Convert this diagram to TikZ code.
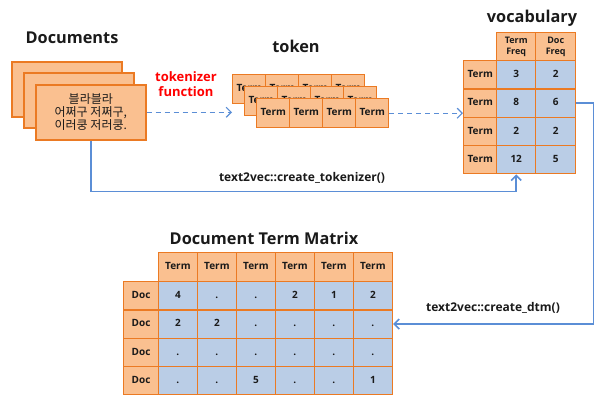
\documentclass[tikz,border=0pt]{standalone}
\usepackage{fontspec}
\setmainfont{Open Sans}
\newfontfamily\kr{Noto Sans CJK KR}
\usetikzlibrary{arrows.meta,calc}
\definecolor{orf}{HTML}{FAC090}
\definecolor{ord}{HTML}{EB7A23}
\definecolor{blf}{HTML}{BACDE6}
\definecolor{arr}{HTML}{5B8ED6}
\definecolor{ink}{HTML}{1A1A1A}
\begin{document}
\begin{tikzpicture}[x=1pt,y=-1pt,
  cellbase/.style={draw=ord, line width=1.4pt, inner sep=0pt, anchor=north west,
    font=\bfseries\fontsize{10}{11}\selectfont, text=ink, text height=7.5pt, text depth=2pt},
  ocell/.style={cellbase, fill=orf},
  bcell/.style={cellbase, fill=blf},
  hcell/.style={ocell, text height=, text depth=, align=center,
    font=\bfseries\fontsize{9}{11}\selectfont},
  docbox/.style={draw=ord, line width=1.6pt, fill=orf, anchor=north west,
    minimum width=110pt, minimum height=55pt, inner sep=0pt},
  title/.style={font=\bfseries\fontsize{16.3}{18}\selectfont, text=ink},
  lbl/.style={font=\bfseries\fontsize{12}{14}\selectfont, text=ink},
  flow/.style={draw=arr, line width=1.6pt, -{Straight Barb[length=5pt,width=10pt]}},
  dflow/.style={flow, line width=1.2pt, dash pattern=on 5pt off 4pt}]
\useasboundingbox (0,0) rectangle (609,404);

% Documents
\node[title] (tdoc) at (72,38) {Documents};
\node[docbox] (docback) at (11,61) {};
\node[docbox] (docmid) at (23,72) {};
\node[docbox, align=center, font=\kr\fontsize{12}{13}\selectfont, text=ink] (docfront) at (35,84)
  {블라블라\\어쩌구 저쩌구,\\이러쿵 저러쿵.};

\node[font=\bfseries\fontsize{13}{15}\selectfont, text=red, align=center] (tokf) at (186,84) {tokenizer\\function};

% token
\node[title] (ttok) at (296,46) {token};
\foreach \row/\x/\y in {1/232/74, 2/244/86, 3/256/98}
  \foreach \c in {1,...,4}
    \node[ocell, minimum width=33pt, minimum height=29pt] (tok-\row-\c) at (\x+33*\c-33,\y) {Term};

% vocabulary
\node[title] (tvoc) at (532,18) {vocabulary};
\node[hcell, minimum width=39pt, minimum height=28pt] (v-0-1) at (496,32) {Term\\Freq};
\node[hcell, minimum width=40pt, minimum height=28pt] (v-0-2) at (535,32) {Doc\\Freq};
\foreach \r/\a/\b in {1/3/2, 2/8/6, 3/2/2, 4/12/5} {
  \pgfmathsetmacro\yy{60+(\r-1)*28.25}
  \node[ocell, minimum width=33pt, minimum height=28.25pt] (v-\r-0) at (463,\yy) {Term};
  \node[bcell, minimum width=39pt, minimum height=28.25pt] (v-\r-1) at (496,\yy) {\a};
  \node[bcell, minimum width=40pt, minimum height=28.25pt] (v-\r-2) at (535,\yy) {\b};
}

% DTM
\node[title] (tdtm) at (264,238) {Document Term Matrix};
\foreach \c in {1,...,6}
  \node[ocell, minimum width=39pt, minimum height=29pt] (d-0-\c) at (157.7+39*\c-39,252) {Term};
\foreach [count=\r] \rowvals in {{4,.,.,2,1,2},{2,2,.,.,.,.},{.,.,.,.,.,.},{.,.,5,.,.,1}} {
  \pgfmathsetmacro\yy{281+(\r-1)*28.25}
  \node[ocell, minimum width=34.7pt, minimum height=28.25pt] (d-\r-0) at (123,\yy) {Doc};
  \foreach [count=\c] \v in \rowvals
    \node[bcell, minimum width=39pt, minimum height=28.25pt] (d-\r-\c) at (157.7+39*\c-39,\yy) {\v};
}

% connectors
\draw[dflow] (docfront.east) -- (docfront.east -| tok-1-1.west);
\draw[dflow] (tok-3-4.east) -- (tok-3-4.east -| v-2-0.west);
\draw[flow] (docfront.south) |- ([yshift=-17pt]v-4-1.south) -- (v-4-1.south);
\node[lbl] (ltok) at (302,178) {text2vec::create\_tokenizer()};
\draw[flow] (v-2-2.east) -- ++(17,0) |- (d-2-6.east);
\node[lbl] (ldtm) at (493,308) {text2vec::create\_dtm()};
\end{tikzpicture}
\end{document}
